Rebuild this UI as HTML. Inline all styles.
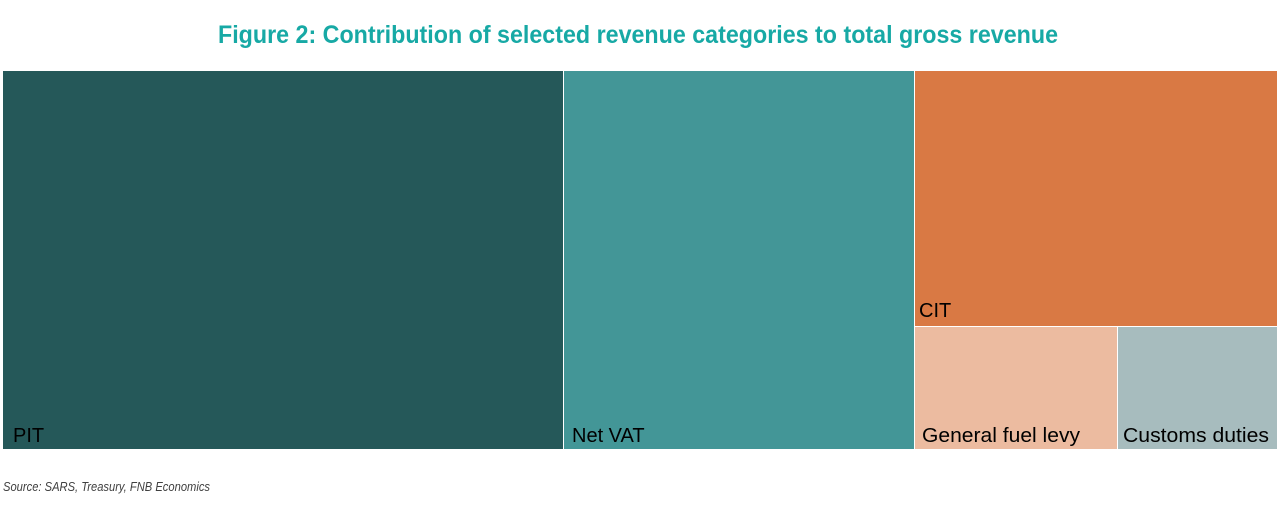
<!DOCTYPE html>
<html>
<head>
<meta charset="utf-8">
<style>
  html, body { margin: 0; padding: 0; background: #ffffff; }
  body { width: 1280px; height: 520px; overflow: hidden; }
  svg { display: block; }
</style>
</head>
<body>
<svg width="1280" height="520" viewBox="0 0 1280 520" xmlns="http://www.w3.org/2000/svg">
  <rect x="0" y="0" width="1280" height="520" fill="#ffffff"/>
  <!-- Title -->
  <text x="218" y="43" textLength="840" lengthAdjust="spacingAndGlyphs"
        font-family="Liberation Sans, Arial, sans-serif" font-weight="bold" font-size="25" fill="#17A9A5">Figure 2: Contribution of selected revenue categories to total gross revenue</text>

  <!-- Treemap -->
  <rect x="3" y="71" width="560" height="378" fill="#255859"/>
  <rect x="564" y="71" width="350" height="378" fill="#439697"/>
  <rect x="915" y="71" width="362" height="255" fill="#D97944"/>
  <rect x="915" y="327" width="202" height="122" fill="#ECBBA0"/>
  <rect x="1118" y="327" width="159" height="122" fill="#A7BCBE"/>

  <!-- Labels -->
  <g font-family="Liberation Sans, Arial, sans-serif" font-size="20" fill="#000000">
    <text x="13" y="442">PIT</text>
    <text x="572" y="442">Net VAT</text>
    <text x="919" y="317">CIT</text>
    <text x="922" y="442" textLength="158" lengthAdjust="spacingAndGlyphs">General fuel levy</text>
    <text x="1123" y="442" textLength="146" lengthAdjust="spacingAndGlyphs">Customs duties</text>
  </g>

  <!-- Source -->
  <text x="3" y="491" textLength="207" lengthAdjust="spacingAndGlyphs"
        font-family="Liberation Sans, Arial, sans-serif" font-style="italic" font-size="13" fill="#404040">Source: SARS, Treasury, FNB Economics</text>
</svg>
</body>
</html>
